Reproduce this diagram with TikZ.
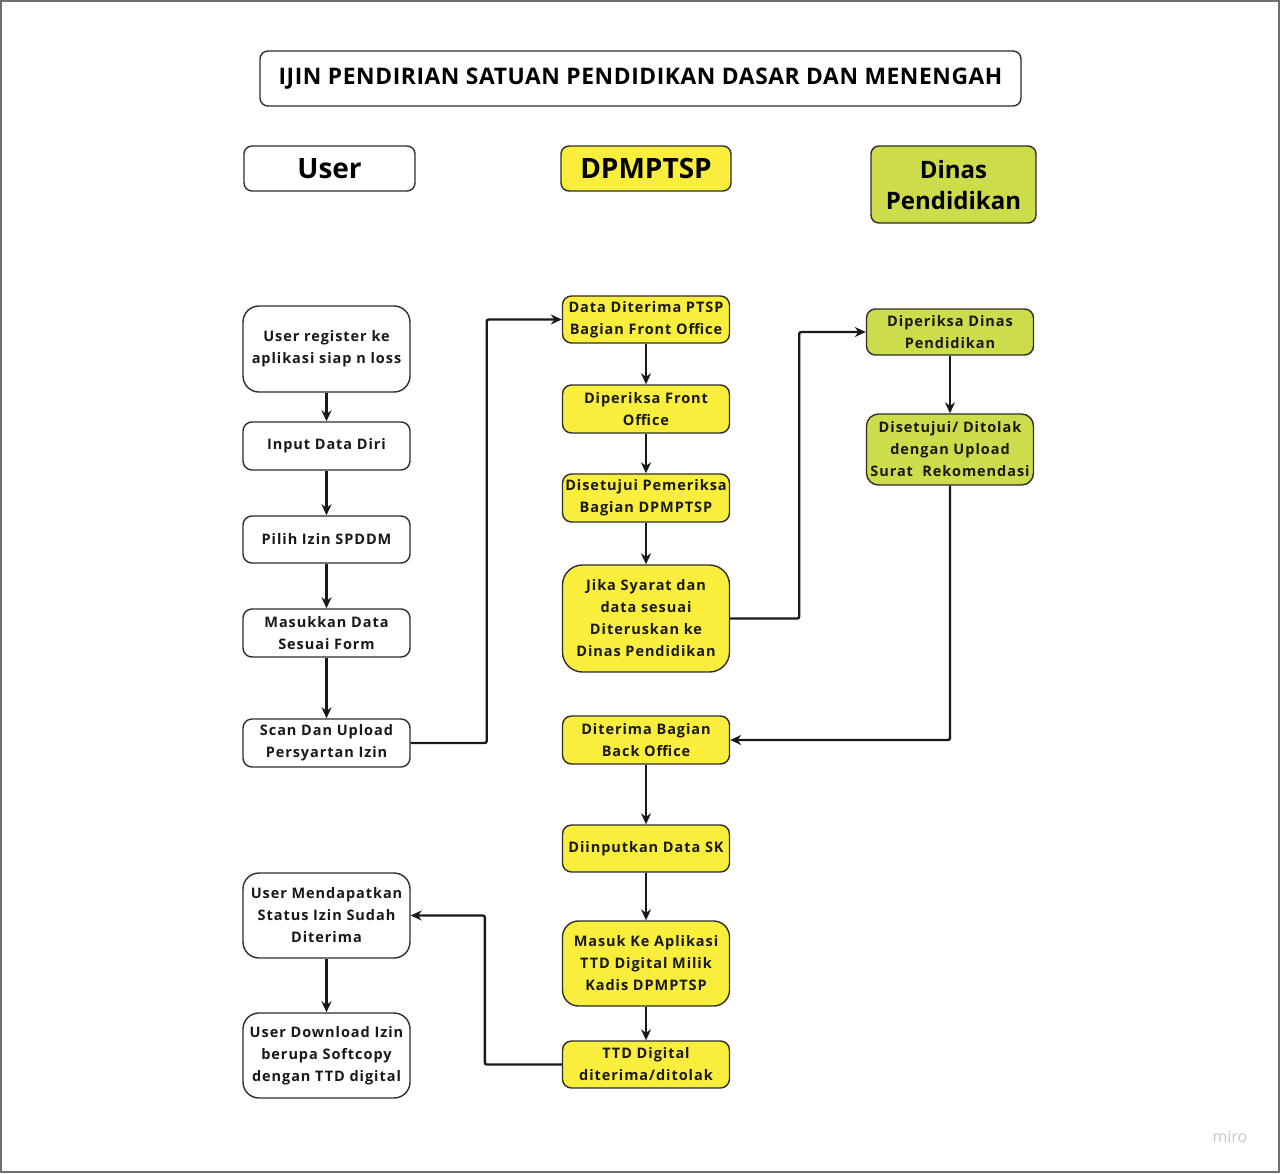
\documentclass[tikz,border=0pt]{standalone}
\usepackage{fontspec}
\setmainfont{Open Sans}
\newfontfamily\boxfont[LetterSpace=6.5]{Open Sans}
\newfontfamily\titlefont[LetterSpace=2.5]{Open Sans}
\usetikzlibrary{arrows.meta}
\definecolor{ylw}{RGB}{249,238,60}
\definecolor{grn}{RGB}{205,220,75}
\definecolor{frame}{RGB}{110,110,110}
\definecolor{edge}{RGB}{45,45,45}
\tikzset{
  box/.style={draw=edge, line width=1.4pt, rounded corners=9pt, fill=white,
    font=\boxfont\bfseries\fontsize{14.5}{22}\selectfont, align=center, inner sep=0pt,
    minimum width=167pt, text=black!90},
  ybox/.style={box, fill=ylw},
  gbox/.style={box, fill=grn},
  hdr/.style={draw=edge, line width=1.4pt, rounded corners=8pt, fill=white,
    font=\bfseries\fontsize{28}{31}\selectfont, align=center, inner sep=0pt},
  arr/.style={-{Stealth[length=11pt,width=10pt]}, line width=2.4pt, black!90, rounded corners=2pt},
}
\begin{document}
\begin{tikzpicture}[x=1pt,y=-1pt]
\useasboundingbox (0,0) rectangle (1280,1173);
\draw[frame, line width=2pt] (1,1) rectangle (1279,1172);

% title and headers
\node[hdr, minimum width=761pt, minimum height=55pt, font=\titlefont\bfseries\fontsize{22.8}{24}\selectfont] (title) at (640.5,78.5) {IJIN PENDIRIAN SATUAN PENDIDIKAN DASAR DAN MENENGAH};
\node[hdr, minimum width=171pt, minimum height=45pt] (huser) at (329.5,168.5) {User};
\node[hdr, fill=ylw, minimum width=170pt, minimum height=45pt] (hdpm) at (646,168.5) {DPMPTSP};
\node[hdr, fill=grn, minimum width=165pt, minimum height=77pt, font=\bfseries\fontsize{24}{31}\selectfont] (hdin) at (953.5,184.5) {Dinas\\Pendidikan};

% user column
\node[box, minimum height=86pt, rounded corners=16pt] (u1) at (326.5,349) {User register ke\\aplikasi siap n loss};
\node[box, minimum height=48pt] (u2) at (326.5,446) {Input Data Diri};
\node[box, minimum height=47pt] (u3) at (326.5,539.5) {Pilih Izin SPDDM};
\node[box, minimum height=48pt] (u4) at (326.5,633) {Masukkan Data\\Sesuai Form};
\node[box, minimum height=48pt] (u5) at (326.5,743) {Scan Dan Upload\\Persyartan Izin};
\node[box, minimum height=85pt, rounded corners=16pt] (u6) at (326.5,915.5) {User Mendapatkan\\Status Izin Sudah\\Diterima};
\node[box, minimum height=85pt, rounded corners=16pt] (u7) at (326.5,1055.5) {User Download Izin\\berupa Softcopy\\dengan TTD digital};

% DPMPTSP column
\node[ybox, minimum height=47pt] (d1) at (646,319.5) {Data Diterima PTSP\\Bagian Front Office};
\node[ybox, minimum height=48pt] (d2) at (646,409) {Diperiksa Front\\Office};
\node[ybox, minimum height=48pt] (d3) at (646,498) {Disetujui Pemeriksa\\Bagian DPMPTSP};
\node[ybox, minimum height=107pt, rounded corners=20pt] (d4) at (646,618.5) {Jika Syarat dan\\data sesuai\\Diteruskan ke\\Dinas Pendidikan};
\node[ybox, minimum height=48pt] (d5) at (646,740) {Diterima Bagian\\Back Office};
\node[ybox, minimum height=47pt] (d6) at (646,848.5) {Diinputkan Data SK};
\node[ybox, minimum height=85pt, rounded corners=16pt] (d7) at (646,963.5) {Masuk Ke Aplikasi\\TTD Digital Milik\\Kadis DPMPTSP};
\node[ybox, minimum height=47pt] (d8) at (646,1064.5) {TTD Digital\\diterima/ditolak};

% Dinas column
\node[gbox, minimum height=46pt] (n1) at (950,332) {Diperiksa Dinas\\Pendidikan};
\node[gbox, minimum height=71pt, rounded corners=12pt] (n2) at (950,449.5) {Disetujui/ Ditolak\\dengan Upload\\Surat~ Rekomendasi};

% connectors
\draw[arr] (u1) -- (u2);
\draw[arr] (u2) -- (u3);
\draw[arr] (u3) -- (u4);
\draw[arr] (u4) -- (u5);
\draw[arr] (u5.east) -- ++(76,0) |- (d1.west);
\draw[arr] (d1) -- (d2);
\draw[arr] (d2) -- (d3);
\draw[arr] (d3) -- (d4);
\draw[arr] (d4.east) -- ++(69,0) |- (n1.west);
\draw[arr] (n1) -- (n2);
\draw[arr] (n2.south) |- (d5.east);
\draw[arr] (d5) -- (d6);
\draw[arr] (d6) -- (d7);
\draw[arr] (d7) -- (d8);
\draw[arr] (d8.west) -- ++(-77,0) |- (u6.east);
\draw[arr] (u6) -- (u7);

\node[text=black!22, font=\fontsize{16}{18}\selectfont, inner sep=0pt] (miro) at (1230,1137) {miro};
\end{tikzpicture}
\end{document}
